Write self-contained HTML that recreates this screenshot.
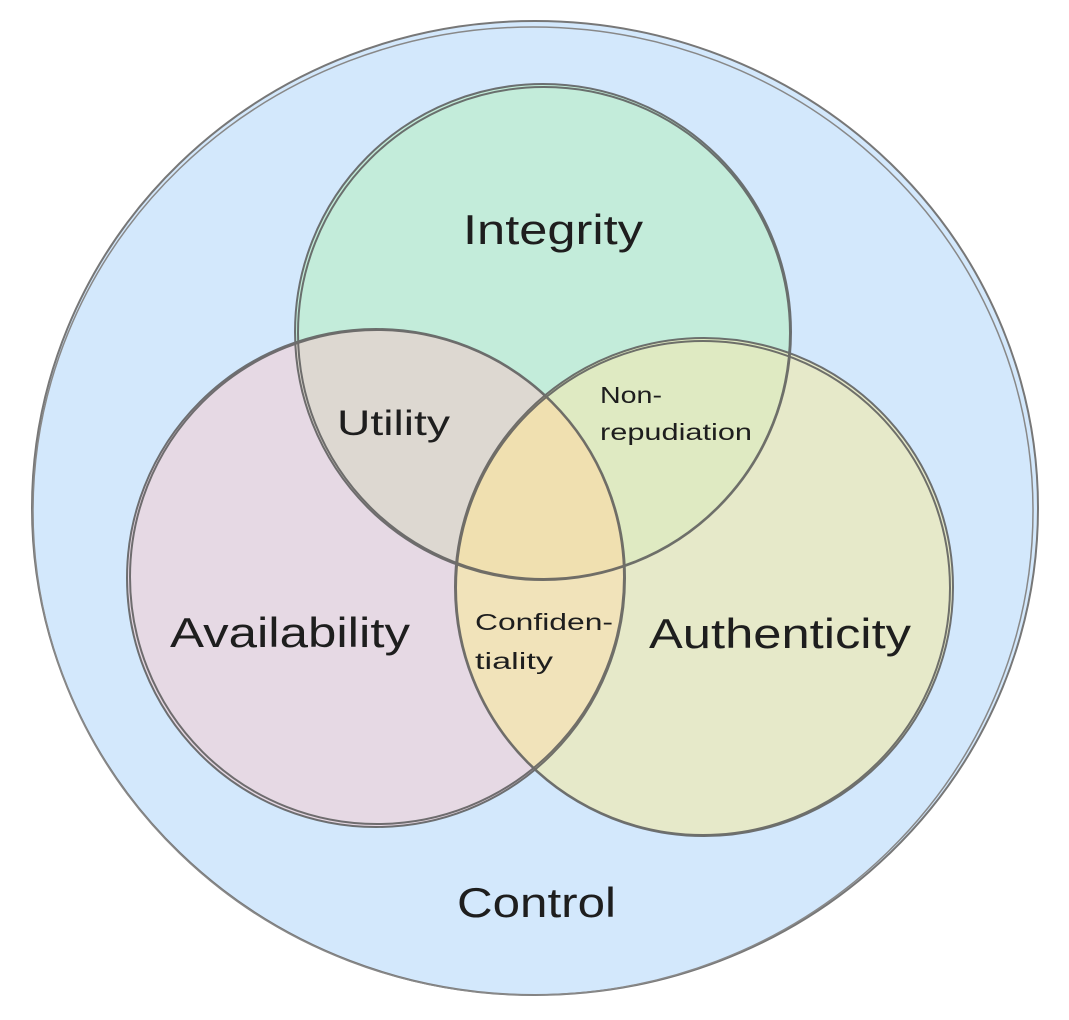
<!DOCTYPE html>
<html><head><meta charset="utf-8"><style>
html,body{margin:0;padding:0;background:#fff;}
svg{display:block;}
text{font-family:"Liberation Sans",sans-serif;fill:#1e1e1e;}
</style></head><body>
<svg width="1069" height="1020" viewBox="0 0 1069 1020" xmlns="http://www.w3.org/2000/svg">
<defs>
<clipPath id="cI"><circle cx="543" cy="332" r="248"/></clipPath>
<clipPath id="cA"><circle cx="376" cy="578" r="249"/></clipPath>
</defs>
<ellipse cx="535" cy="508" rx="503" ry="487" fill="#d3e8fc"/>
<ellipse cx="535" cy="508" rx="503" ry="487" fill="none" stroke="#777" stroke-width="2"/>
<ellipse cx="533" cy="511" rx="500" ry="484" fill="none" stroke="#888" stroke-width="1.5"/>
<circle cx="543" cy="332" r="248" fill="#c3ecda"/>
<circle cx="376" cy="578" r="249" fill="#e6d9e4"/>
<circle cx="704" cy="587" r="249" fill="#e6e9c9"/>
<g clip-path="url(#cI)"><circle cx="376" cy="578" r="249" fill="#ddd8d1"/><circle cx="704" cy="587" r="249" fill="#dfeac2"/></g>
<g clip-path="url(#cA)"><circle cx="704" cy="587" r="249" fill="#f1e3ba"/></g>
<g clip-path="url(#cI)"><g clip-path="url(#cA)"><circle cx="704" cy="587" r="249" fill="#f0e0b0"/></g></g>
<g fill="none" stroke="#5a5a5a" stroke-width="2" opacity="0.85">
<circle cx="543" cy="332" r="248"/><circle cx="544" cy="333" r="246"/>
<circle cx="376" cy="578" r="249"/><circle cx="377" cy="577" r="247"/>
<circle cx="704" cy="587" r="249"/><circle cx="703" cy="588" r="247"/>
</g>
<text x="463" y="244" font-size="42" textLength="180" lengthAdjust="spacingAndGlyphs">Integrity</text>
<text x="337" y="435" font-size="35" textLength="113" lengthAdjust="spacingAndGlyphs">Utility</text>
<text x="600" y="403" font-size="23" textLength="62" lengthAdjust="spacingAndGlyphs">Non-</text>
<text x="600" y="440" font-size="23" textLength="152" lengthAdjust="spacingAndGlyphs">repudiation</text>
<text x="170" y="647" font-size="42" textLength="240" lengthAdjust="spacingAndGlyphs">Availability</text>
<text x="475" y="630" font-size="23" textLength="138" lengthAdjust="spacingAndGlyphs">Confiden-</text>
<text x="475" y="669" font-size="23" textLength="78" lengthAdjust="spacingAndGlyphs">tiality</text>
<text x="649" y="648" font-size="42" textLength="262" lengthAdjust="spacingAndGlyphs">Authenticity</text>
<text x="457" y="917" font-size="42" textLength="159" lengthAdjust="spacingAndGlyphs">Control</text>
</svg>
</body></html>
